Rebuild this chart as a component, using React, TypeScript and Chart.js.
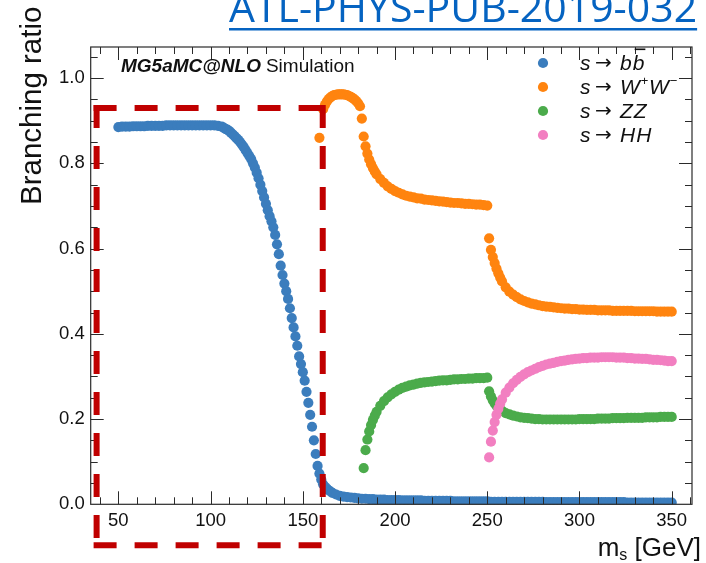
import React, { useEffect, useRef } from "react";
import { Chart, registerables } from "chart.js";

Chart.register(...registerables);

const W = 706;
const H = 563;

// ---- s -> b bbar ----
const bbMass = [
  50, 52, 54, 56, 58, 60, 62, 64, 66, 68, 70, 72, 74, 76, 78, 80, 82, 84, 86, 88,
  90, 92, 94, 96, 98, 100, 102, 104, 106,
  107, 108, 109, 110, 111, 112, 113, 114, 115, 116, 117, 118, 119, 120, 121, 122, 123, 124, 125, 126,
  127, 128, 129, 130, 131, 132, 133, 134, 135, 136, 137, 138, 139, 140, 141, 142, 143, 144, 145, 146,
  147, 148, 149, 150, 151, 152, 153, 154, 155, 156, 157, 158, 159, 160, 161, 162, 163, 164, 165,
  166, 168, 170, 172, 174, 176, 178, 180, 182, 184,
  186, 188, 190, 192, 194, 196, 198, 200, 202, 204,
  206, 208, 210, 212, 214, 216, 218, 220, 222, 224,
  226, 228, 230, 232, 234, 236, 238, 240, 242, 244,
  246, 248, 250, 252, 254, 256, 258, 260, 262, 264,
  266, 268, 270, 272, 274, 276, 278, 280, 282, 284,
  286, 288, 290, 292, 294, 296, 298, 300, 302, 304,
  306, 308, 310, 312, 314, 316, 318, 320, 322, 324,
  326, 328, 330, 332, 334, 336, 338, 340, 342, 344,
  346, 348, 350,
];
const bbRatio = [
  0.885, 0.886, 0.886, 0.886, 0.887, 0.887, 0.887, 0.887, 0.888, 0.888, 0.888, 0.888, 0.888, 0.889, 0.889,
  0.889, 0.889, 0.889, 0.889, 0.889, 0.889, 0.889, 0.889, 0.889, 0.889, 0.889, 0.889, 0.888, 0.886,
  0.884, 0.881, 0.879, 0.876, 0.872, 0.868, 0.864, 0.859, 0.855, 0.85, 0.844, 0.838, 0.831, 0.824, 0.817,
  0.81, 0.8, 0.79, 0.778, 0.765, 0.75, 0.735, 0.72, 0.705, 0.69, 0.676, 0.664, 0.65, 0.632, 0.61,
  0.587, 0.56, 0.538, 0.518, 0.5, 0.482, 0.46, 0.437, 0.415, 0.394, 0.372, 0.347, 0.329, 0.31, 0.29,
  0.264, 0.238, 0.21, 0.182, 0.15, 0.118, 0.09, 0.072, 0.058, 0.047, 0.041, 0.037, 0.033, 0.03,
  0.027, 0.023, 0.02, 0.018, 0.017, 0.016, 0.015, 0.014, 0.013, 0.013,
  0.012, 0.012, 0.011, 0.011, 0.011, 0.01, 0.01, 0.01, 0.01, 0.009,
  0.009, 0.009, 0.009, 0.009, 0.009, 0.008, 0.008, 0.008, 0.008, 0.008,
  0.008, 0.008, 0.008, 0.007, 0.007, 0.007, 0.007, 0.007, 0.007, 0.007,
  0.007, 0.007, 0.007, 0.006, 0.006, 0.006, 0.006, 0.006, 0.006, 0.006,
  0.006, 0.006, 0.006, 0.006, 0.006, 0.006, 0.006, 0.006, 0.005, 0.005,
  0.005, 0.005, 0.005, 0.005, 0.005, 0.005, 0.005, 0.005, 0.005, 0.005,
  0.005, 0.005, 0.005, 0.005, 0.005, 0.005, 0.005, 0.005, 0.005, 0.005,
  0.004, 0.004, 0.004, 0.004, 0.004, 0.004, 0.004, 0.004, 0.004, 0.004,
  0.004, 0.004, 0.004,
];

// ---- s -> W+ W- ----
const wwMass = [
  159,
  161, 162, 163, 164, 165, 166, 167, 168, 169, 170, 171, 172, 173, 174, 175, 176, 177, 178, 179, 180,
  181, 182, 183, 184, 185, 186, 187, 188, 189, 190,
  192, 194, 196, 198, 200, 202, 204, 206, 208, 210, 212, 214, 216, 218, 220,
  222, 224, 226, 228, 230, 232, 234, 236, 238, 240, 242, 244, 246, 248, 250,
  251, 252, 253, 254, 255, 256, 257, 258,
  260, 262, 264, 266, 268, 270, 272, 274, 276, 278, 280, 282, 284, 286, 288, 290,
  292, 294, 296, 298, 300, 302, 304, 306, 308, 310, 312, 314, 316, 318, 320,
  322, 324, 326, 328, 330, 332, 334, 336, 338, 340, 342, 344, 346, 348, 350,
];
const wwRatio = [
  0.86,
  0.927, 0.937, 0.945, 0.951, 0.955, 0.958, 0.96, 0.961, 0.962, 0.962, 0.962, 0.962, 0.961, 0.96, 0.958,
  0.956, 0.953, 0.95, 0.946, 0.941,
  0.934, 0.905, 0.863, 0.84, 0.823, 0.809, 0.798, 0.789, 0.781, 0.774,
  0.763, 0.754, 0.746, 0.74, 0.735, 0.731, 0.727, 0.724, 0.722, 0.72, 0.718, 0.717, 0.715, 0.714, 0.713,
  0.712, 0.711, 0.71, 0.709, 0.708, 0.707, 0.707, 0.706, 0.705, 0.705, 0.704, 0.703, 0.703, 0.702, 0.701,
  0.624, 0.597, 0.58, 0.566, 0.553, 0.542, 0.532, 0.523,
  0.509, 0.499, 0.492, 0.486, 0.481, 0.477, 0.474, 0.471, 0.469, 0.467, 0.465, 0.464, 0.463, 0.462, 0.461, 0.46,
  0.459, 0.459, 0.458, 0.458, 0.457, 0.457, 0.456, 0.456, 0.456, 0.455, 0.455, 0.455, 0.455, 0.454, 0.454,
  0.454, 0.454, 0.454, 0.454, 0.453, 0.453, 0.453, 0.453, 0.453, 0.453, 0.452, 0.452, 0.452, 0.452, 0.452,
];

// ---- s -> Z Z ----
const zzMass = [
  183, 184, 185, 186, 187, 188, 189, 190,
  192, 194, 196, 198, 200, 202, 204, 206, 208, 210, 212, 214, 216, 218, 220,
  222, 224, 226, 228, 230, 232, 234, 236, 238, 240, 242, 244, 246, 248, 250,
  251, 252, 253, 254, 255, 256, 257, 258,
  260, 262, 264, 266, 268, 270, 272, 274, 276, 278, 280, 282, 284, 286, 288, 290,
  292, 294, 296, 298, 300, 302, 304, 306, 308, 310, 312, 314, 316, 318, 320,
  322, 324, 326, 328, 330, 332, 334, 336, 338, 340, 342, 344, 346, 348, 350,
];
const zzRatio = [
  0.085, 0.127, 0.152, 0.171, 0.186, 0.198, 0.208, 0.217,
  0.231, 0.242, 0.251, 0.258, 0.264, 0.269, 0.273, 0.276, 0.279, 0.281, 0.283, 0.285, 0.286, 0.287, 0.288,
  0.289, 0.29, 0.291, 0.291, 0.292, 0.293, 0.293, 0.294, 0.294, 0.295, 0.295, 0.296, 0.296, 0.296, 0.297,
  0.265, 0.253, 0.244, 0.237, 0.231, 0.226, 0.222, 0.219,
  0.214, 0.211, 0.208, 0.206, 0.204, 0.203, 0.202, 0.201, 0.2, 0.2, 0.199, 0.199, 0.199, 0.199, 0.199, 0.199,
  0.199, 0.199, 0.199, 0.199, 0.2, 0.2, 0.2, 0.2, 0.2, 0.201, 0.201, 0.201, 0.201, 0.202, 0.202,
  0.202, 0.202, 0.203, 0.203, 0.203, 0.203, 0.203, 0.204, 0.204, 0.204, 0.204, 0.205, 0.205, 0.205, 0.205,
];

// ---- s -> H H ----
const hhMass = [
  251, 252, 253, 254, 255, 256, 257, 258,
  260, 262, 264, 266, 268, 270, 272, 274, 276, 278, 280, 282, 284, 286, 288, 290,
  292, 294, 296, 298, 300, 302, 304, 306, 308, 310, 312, 314, 316, 318, 320,
  322, 324, 326, 328, 330, 332, 334, 336, 338, 340, 342, 344, 346, 348, 350,
];
const hhRatio = [
  0.11, 0.147, 0.173, 0.193, 0.21, 0.224, 0.236, 0.246,
  0.262, 0.274, 0.284, 0.292, 0.299, 0.305, 0.31, 0.314, 0.318, 0.322, 0.325, 0.328, 0.33, 0.332, 0.334, 0.336,
  0.337, 0.339, 0.34, 0.341, 0.342, 0.343, 0.343, 0.344, 0.344, 0.344, 0.345, 0.345, 0.345, 0.345, 0.344,
  0.344, 0.344, 0.343, 0.343, 0.342, 0.342, 0.341, 0.341, 0.34, 0.339, 0.339, 0.338, 0.337, 0.336, 0.336,
];

const seriesLabels = ["s → bb̄", "s → W⁺W⁻", "s → ZZ", "s → HH"];
const seriesColors = ["#3b7dbd", "#ff840f", "#4bab4b", "#f27fc1"];

// axis ranges and ticks
const xRange = [35, 361];
const yRange = [0, 1.073];
const xTickValues = [50, 100, 150, 200, 250, 300, 350];
const xMinorTicks = [
  40, 60, 70, 80, 90, 110, 120, 130, 140, 160, 170, 180, 190, 210, 220, 230, 240,
  260, 270, 280, 290, 310, 320, 330, 340, 360,
];
const yTickValues = [0, 0.2, 0.4, 0.6, 0.8, 1.0];
const yMinorTicks = [
  0.05, 0.1, 0.15, 0.25, 0.3, 0.35, 0.45, 0.5, 0.55, 0.65, 0.7, 0.75, 0.85, 0.9, 0.95, 1.05,
];

// highlighted region (GeV, branching ratio)
const boxMass = [38.2, 160.8];
const boxRatio = [-0.096, 0.93];

const docId = "ATL-PHYS-PUB-2019-032";
const yTitle = "Branching ratio";
const generatorTag = "MG5aMC@NLO";
const simTag = "Simulation";

const AXIS_FONT = "'Liberation Sans', Arial, Helvetica, sans-serif";
const DOT_RADIUS = 5.1;

type Piece = { t: string; italic?: boolean; sup?: boolean; bar?: boolean };
const legendFinalStates: Piece[][] = [
  [{ t: "b", italic: true }, { t: "b", italic: true, bar: true }],
  [{ t: "W", italic: true }, { t: "+", sup: true }, { t: "W", italic: true }, { t: "−", sup: true }],
  [{ t: "Z", italic: true }, { t: "Z", italic: true }],
  [{ t: "H", italic: true }, { t: "H", italic: true }],
];

function drawLegend(ctx: CanvasRenderingContext2D) {
  const rowY0 = 63;
  const rowStep = 24;
  const size = 21;
  legendFinalStates.forEach((pieces, i) => {
    const cy = rowY0 + i * rowStep;
    const base = cy + 6.5;
    ctx.fillStyle = seriesColors[i];
    ctx.beginPath();
    ctx.arc(543, cy, DOT_RADIUS, 0, Math.PI * 2);
    ctx.fill();

    ctx.fillStyle = "#111";
    ctx.textAlign = "left";
    ctx.textBaseline = "alphabetic";
    ctx.font = `italic ${size}px ${AXIS_FONT}`;
    ctx.fillText("s", 580, base);
    ctx.font = `${size - 1}px 'DejaVu Sans', sans-serif`;
    ctx.fillText("→", 595, base - 1);

    let x = 620;
    pieces.forEach((p) => {
      if (p.sup) {
        ctx.font = `${Math.round(size * 0.62)}px ${AXIS_FONT}`;
        ctx.fillText(p.t, x, base - 9);
        x += ctx.measureText(p.t).width + 0.5;
      } else {
        ctx.font = `${p.italic ? "italic " : ""}${size}px ${AXIS_FONT}`;
        const w = ctx.measureText(p.t).width;
        ctx.fillText(p.t, x, base);
        if (p.bar) {
          ctx.fillRect(x + 2, base - 21, w - 1, 1.6);
        }
        x += w + 1;
      }
    });
  });
}

function dashedLine(ctx: CanvasRenderingContext2D, x1: number, y1: number, x2: number, y2: number) {
  ctx.beginPath();
  ctx.moveTo(x1, y1);
  ctx.lineTo(x2, y2);
  ctx.stroke();
}

const decorPlugin = {
  id: "decor",
  afterDatasetsDraw(chart: any) {
    const { ctx, chartArea: a, scales } = chart;
    const xs = scales.x;
    const ys = scales.y;
    ctx.save();

    // frame
    ctx.strokeStyle = "#2a2a2a";
    ctx.lineWidth = 1.2;
    ctx.strokeRect(a.left, a.top, a.right - a.left, a.bottom - a.top);

    // inward ticks on all four sides
    const xTick = (v: number, len: number) => {
      const px = Math.round(xs.getPixelForValue(v)) + 0.5;
      if (px < a.left || px > a.right) return;
      ctx.beginPath();
      ctx.moveTo(px, a.bottom);
      ctx.lineTo(px, a.bottom - len);
      ctx.moveTo(px, a.top);
      ctx.lineTo(px, a.top + len);
      ctx.stroke();
    };
    const yTick = (v: number, len: number) => {
      const py = Math.round(ys.getPixelForValue(v)) + 0.5;
      if (py < a.top || py > a.bottom) return;
      ctx.beginPath();
      ctx.moveTo(a.left, py);
      ctx.lineTo(a.left + len, py);
      ctx.moveTo(a.right, py);
      ctx.lineTo(a.right - len, py);
      ctx.stroke();
    };
    ctx.lineWidth = 1;
    xTickValues.forEach((v) => xTick(v, 13));
    xMinorTicks.forEach((v) => xTick(v, 7));
    yTickValues.forEach((v) => yTick(v, 13));
    yMinorTicks.forEach((v) => yTick(v, 7));

    // generator label
    ctx.fillStyle = "#111";
    ctx.textBaseline = "alphabetic";
    ctx.textAlign = "left";
    ctx.font = `italic bold 19px ${AXIS_FONT}`;
    ctx.fillText(generatorTag, 121, 72);
    const gw = ctx.measureText(generatorTag).width;
    ctx.font = `19px ${AXIS_FONT}`;
    ctx.fillText(simTag, 121 + gw + 5, 72);

    drawLegend(ctx);
    ctx.restore();
  },
  afterDraw(chart: any) {
    const { ctx, scales } = chart;
    const xs = scales.x;
    const ys = scales.y;
    ctx.save();

    // dashed highlight box
    const x1 = xs.getPixelForValue(boxMass[0]);
    const x2 = xs.getPixelForValue(boxMass[1]);
    const y1 = ys.getPixelForValue(boxRatio[1]);
    const y2 = ys.getPixelForValue(boxRatio[0]);
    ctx.strokeStyle = "#c00000";
    ctx.lineWidth = 6;
    ctx.lineCap = "butt";
    ctx.setLineDash([23, 18]);
    dashedLine(ctx, x1 - 3, y1, x2 + 3, y1);
    dashedLine(ctx, x1, y1 - 3, x1, y2 + 3);
    dashedLine(ctx, x2, y1 - 3, x2, y2);
    dashedLine(ctx, x1 - 3, y2, x2, y2);
    ctx.setLineDash([]);

    // document reference
    ctx.fillStyle = "#0563c1";
    ctx.font = "41px 'Open Sans', 'Noto Sans', sans-serif";
    ctx.textAlign = "left";
    ctx.textBaseline = "alphabetic";
    ctx.fillText(docId, 229, 22);
    const tw = ctx.measureText(docId).width;
    ctx.fillRect(229, 28, tw, 2.5);

    // y-axis title
    ctx.fillStyle = "#111";
    ctx.save();
    ctx.translate(41, 205);
    ctx.rotate(-Math.PI / 2);
    ctx.font = `29.5px ${AXIS_FONT}`;
    ctx.fillText(yTitle, 0, 0);
    ctx.restore();

    // x-axis title: m_s [GeV], right aligned
    const big = `26px ${AXIS_FONT}`;
    const small = `16px ${AXIS_FONT}`;
    ctx.font = big;
    const wm = ctx.measureText("m").width;
    const wr = ctx.measureText(" [GeV]").width;
    ctx.font = small;
    const ws = ctx.measureText("s").width;
    const right = 701;
    const start = right - wr - ws - wm;
    ctx.font = big;
    ctx.fillText("m", start, 556);
    ctx.font = small;
    ctx.fillText("s", start + wm, 560);
    ctx.font = big;
    ctx.fillText(" [GeV]", start + wm + ws, 556);

    ctx.restore();
  },
};

function toPoints(mass: number[], ratio: number[]) {
  return mass.map((m, i) => ({ x: m, y: ratio[i] }));
}

export default function App() {
  const canvasRef = useRef<HTMLCanvasElement | null>(null);

  useEffect(() => {
    const canvas = canvasRef.current;
    if (!canvas) return;
    const series = [
      toPoints(bbMass, bbRatio),
      toPoints(wwMass, wwRatio),
      toPoints(zzMass, zzRatio),
      toPoints(hhMass, hhRatio),
    ];
    const chart = new Chart(canvas, {
      type: "scatter",
      data: {
        datasets: series.map((data, i) => ({
          label: seriesLabels[i],
          data,
          backgroundColor: seriesColors[i],
          borderColor: seriesColors[i],
          borderWidth: 0,
          pointRadius: DOT_RADIUS,
          pointHoverRadius: DOT_RADIUS,
          pointBorderWidth: 0,
          order: 4 - i,
        })),
      },
      options: {
        responsive: false,
        animation: false,
        devicePixelRatio: 1,
        events: [],
        layout: { padding: { left: 0, top: 47, right: 14, bottom: 0 } },
        plugins: {
          legend: { display: false },
          tooltip: { enabled: false },
          title: { display: false },
        },
        scales: {
          x: {
            type: "linear",
            min: xRange[0],
            max: xRange[1],
            afterFit: (s: any) => {
              s.height = 58.7;
            },
            afterBuildTicks: (s: any) => {
              s.ticks = xTickValues.map((v) => ({ value: v }));
            },
            grid: { display: false, drawTicks: false },
            border: { display: false },
            ticks: {
              color: "#111",
              font: { family: AXIS_FONT, size: 18.5 },
              padding: 6,
              maxRotation: 0,
              autoSkip: false,
            },
          },
          y: {
            type: "linear",
            min: yRange[0],
            max: yRange[1],
            afterFit: (s: any) => {
              s.width = 90.7;
            },
            afterBuildTicks: (s: any) => {
              s.ticks = yTickValues.map((v) => ({ value: v }));
            },
            grid: { display: false, drawTicks: false },
            border: { display: false },
            ticks: {
              color: "#111",
              font: { family: AXIS_FONT, size: 18.5 },
              padding: 6,
              autoSkip: false,
              callback: (v: any) => Number(v).toFixed(1),
            },
          },
        },
      } as any,
      plugins: [decorPlugin],
    });
    return () => chart.destroy();
  }, []);

  return (
    <div style={{ position: "fixed", left: 0, top: 0, width: W, height: H, background: "#fff" }}>
      <canvas ref={canvasRef} width={W} height={H} style={{ display: "block" }} />
    </div>
  );
}
